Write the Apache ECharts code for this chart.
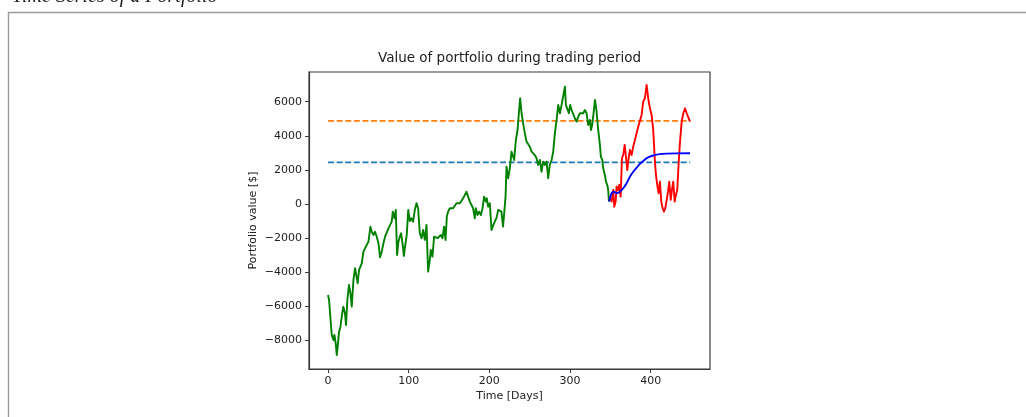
<!DOCTYPE html>
<html>
<head>
<meta charset="utf-8">
<script src="https://cdn.jsdelivr.net/npm/echarts@6/dist/echarts.min.js"></script>
<style>
html,body{margin:0;padding:0;background:#fff;}
#chart{width:1026px;height:417px;}
</style>
</head>
<body>
<div id="chart"></div>
<script>
// ---- data ----
const xTicks = [0, 100, 200, 300, 400];
const yTicks = [-8000, -6000, -4000, -2000, 0, 2000, 4000, 6000];

const greenDays = [0,1.3,2.5,4.6,6.7,7.9,9.5,10.8,12,13.7,15.4,17,19,21,22.3,24,26,27.8,29.4,31.5,33.5,35.2,36.8,38.5,40.2,41.8,43.9,45.9,48,50.1,52.6,54.2,56.3,58.3,60.4,62.5,64.5,66.6,68.7,70.7,72.8,74.9,77,79,80.3,82.4,84,85.6,87.3,89,90.6,92.3,94,95.5,97.6,99.5,101.5,103.5,105.5,107.6,109.7,111.7,113.8,115.9,117.9,120,122.1,124.1,126.2,127.4,129.5,131.5,133.6,135.7,137.7,139.8,141.9,143.9,145.7,147.3,148.9,151,153.1,155.1,157.2,159.3,161.3,163.4,165.5,167.5,169.6,171.7,173.7,175.8,177.9,179.9,182,183.3,185.4,187.3,189.5,191.6,193.5,195.7,196.9,198.5,200.6,202.7,205,207,209,211,213,215,217,218.4,220.1,221.3,223.3,225.4,227.5,229.5,230.8,232.9,235,236.6,238.2,240,241.9,244,246.1,248.1,250.2,252.4,254.3,256.4,258.5,260.5,262.7,264.7,266.7,268.9,271,273,275,277.2,279.2,281.3,283.4,285.4,287.5,289.6,291.6,293.7,294.9,297,298.6,300.2,302,304,306,308.2,310.2,312.3,314.4,316.4,318.5,320.6,322.6,324.7,326,327.5,329,331,333,335,337.1,338.3,340,341.2,343.3,344.6,346.2,347.4,348.3];
const greenValues = [-5340,-5630,-6410,-7680,-7980,-7680,-8170,-8860,-8370,-7490,-7200,-6610,-6020,-6410,-7100,-5630,-4750,-5240,-6020,-4460,-3770,-3680,-4650,-3870,-3970,-3480,-2800,-2600,-2700,-2210,-1330,-1630,-1820,-1630,-1920,-2300,-3130,-2800,-2300,-1920,-1820,-1430,-1230,-1040,-450,-840,-350,-2990,-2210,-1920,-1720,-2300,-3050,-2500,-1800,-350,-1000,-840,-1040,-350,40,-250,-1720,-2010,-1530,-2110,-1230,-3970,-3280,-2700,-3090,-1920,-1820,-2010,-2110,-1820,-2010,-1330,-2110,-740,-450,-250,-350,-250,-350,40,-60,40,-60,330,240,720,430,140,-60,-250,-840,-250,-650,-450,-650,-250,430,140,330,-160,40,-1530,-1230,-1330,-800,-350,-250,-450,-1330,-550,430,2190,1510,2090,3070,3170,2580,3750,4340,5320,6200,5320,4730,4150,3660,3750,3360,3070,2970,2870,2680,2290,2580,1890,2480,2290,2480,1510,2290,2580,3070,4150,4930,5810,5320,5810,5910,6880,5810,5910,5320,5810,5510,5610,5030,4830,5120,5320,5410,5320,5510,5320,4630,4930,4340,4630,5220,6100,5410,4340,3460,2780,2580,2090,1700,1310,1110,820,140];

const redDays = [349,351.6,353.6,354.9,356.6,357.8,359.8,361.1,362.8,364.4,366,367.8,369.4,371,372.7,374.3,376.4,378.4,380.5,382.6,384.6,386.7,388.8,390.8,392.9,395,397,399.1,401.2,403.2,405.3,406.6,408.2,409.9,411.5,413.2,414.9,416.5,418.1,419.9,421.5,423.1,424.9,426.4,428,429.8,431.4,433,434.7,436.4,438.5,440.5,442.6,444.7,446.7,448.8];
const redValues = [450,140,820,-160,140,1020,820,1110,430,2680,2870,3460,2780,1990,2680,3170,2870,3360,3460,4150,4530,4630,5220,6000,6200,6980,6200,5610,5220,4340,2480,1700,1110,630,1310,140,-250,-450,-250,240,720,1310,240,820,1310,140,530,820,2390,3650,4830,5320,5610,5320,5220,4830];

const blueDays = [348.5,351.6,354.4,357.8,361.9,366,370.2,374.3,378.4,382.6,386.7,390.8,395,399.1,405.3,411.5,419.9,431.4,448.8];
const blueValues = [150,630,720,630,720,920,1210,1600,1890,2130,2350,2520,2680,2780,2870,2920,2950,2970,2975];

const levelDays = [0, 449];
const lowerLevel = 2440;
const upperLevel = 4870;

const captionText = 'Time Series of a Portfolio';
const titleText = 'Value of portfolio during trading period';
const xName = 'Time [Days]';
const yName = 'Portfolio value [$]';

// ---- build ----
const zip = (a, b) => a.map((v, i) => [v, b[i]]);
const FONT = 'DejaVu Sans';
const TXT = '#222';

const G = {left: 309, top: 72, right: 1026 - 710, bottom: 417 - 369};

const chart = echarts.init(document.getElementById('chart'), null, {renderer: 'canvas'});
chart.setOption({
  animation: false,
  backgroundColor: '#fff',
  grid: {left: G.left, top: G.top, right: G.right, bottom: G.bottom, show: true,
         borderColor: '#3a3a3a', borderWidth: 1.2, backgroundColor: 'transparent'},
  xAxis: {
    type: 'value', min: -23.6, max: 473.6,
    axisLine: {show: true, onZero: false, lineStyle: {color: '#3a3a3a', width: 1.2}},
    axisTick: {show: true, length: 4, customValues: xTicks, lineStyle: {color: '#3a3a3a'}},
    axisLabel: {customValues: xTicks, color: TXT, fontFamily: FONT, fontSize: 11, margin: 7},
    splitLine: {show: false}
  },
  yAxis: {
    type: 'value', min: -9680, max: 7740,
    axisLine: {show: true, onZero: false, lineStyle: {color: '#3a3a3a', width: 1.2}},
    axisTick: {show: true, length: 4, customValues: yTicks, lineStyle: {color: '#3a3a3a'}},
    axisLabel: {customValues: yTicks, color: TXT, fontFamily: FONT, fontSize: 11, margin: 7,
      formatter: v => (v < 0 ? '\u2212' + Math.abs(v) : String(v))},
    splitLine: {show: false}
  },
  series: [
    {type: 'line', data: zip(levelDays, [lowerLevel, lowerLevel]), symbol: 'none', silent: true,
     lineStyle: {color: '#1f77b4', width: 1.8, type: [6, 2.6]}},
    {type: 'line', data: zip(levelDays, [upperLevel, upperLevel]), symbol: 'none', silent: true,
     lineStyle: {color: '#ff7f0e', width: 1.8, type: [6, 2.6]}},
    {type: 'line', data: zip(greenDays, greenValues), symbol: 'none', silent: true,
     lineStyle: {color: '#008000', width: 1.9, join: 'round'}},
    {type: 'line', data: zip(redDays, redValues), symbol: 'none', silent: true,
     lineStyle: {color: '#ff0000', width: 1.9, join: 'round'}},
    {type: 'line', data: zip(blueDays, blueValues), symbol: 'none', silent: true, smooth: 0.3,
     lineStyle: {color: '#0000ff', width: 1.9}}
  ],
  graphic: [
    {type: 'rect', shape: {x: 8.5, y: 12.5, width: 1100, height: 600},
     style: {fill: 'none', stroke: '#9a9a9a', lineWidth: 1.4}, silent: true},
    {type: 'text', x: 12, y: -3.5,
     style: {text: captionText, font: 'italic 20px "Liberation Serif"', fill: '#222',
             textAlign: 'left', textVerticalAlign: 'middle'}},
    {type: 'text', x: 509.5, y: 58.5,
     style: {text: titleText, font: '13.5px "DejaVu Sans"', fill: TXT,
             textAlign: 'center', textVerticalAlign: 'middle'}},
    {type: 'text', x: 509.5, y: 396.5,
     style: {text: xName, font: '11px "DejaVu Sans"', fill: TXT,
             textAlign: 'center', textVerticalAlign: 'middle'}},
    {type: 'text', x: 253, y: 220.5, rotation: Math.PI / 2,
     style: {text: yName, font: '11px "DejaVu Sans"', fill: TXT,
             textAlign: 'center', textVerticalAlign: 'middle'}}
  ]
});
</script>
</body>
</html>
